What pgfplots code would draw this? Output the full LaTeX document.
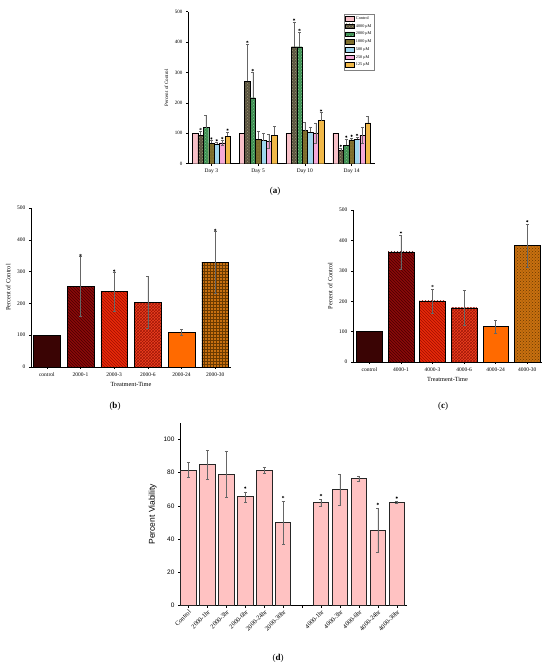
\documentclass[border=0pt]{standalone}
\usepackage{pgfplots}
\pgfplotsset{compat=1.18}
\usetikzlibrary{patterns}
\usepackage{fontspec}
\setmainfont{Liberation Serif}
\newfontfamily\arialf{Liberation Sans}
\definecolor{cctrl}{HTML}{F8C0C8}
\definecolor{cfour}{HTML}{5A5440}
\definecolor{cfourp}{HTML}{A09878}
\definecolor{ctwo}{HTML}{3E8E52}
\definecolor{ctwop}{HTML}{80C090}
\definecolor{cone}{HTML}{7C6C2C}
\definecolor{conep}{HTML}{A89850}
\definecolor{cfive}{HTML}{9ED6EE}
\definecolor{ctwofifty}{HTML}{F5A8D8}
\definecolor{conetwentyfive}{HTML}{F0B848}
\definecolor{bctrl}{HTML}{3A0404}
\definecolor{bone}{HTML}{8B0A0A}
\definecolor{bonep}{HTML}{4A0000}
\definecolor{bthree}{HTML}{E82A0A}
\definecolor{bthreep}{HTML}{A01000}
\definecolor{bsix}{HTML}{F04020}
\definecolor{bsixp}{HTML}{A01808}
\definecolor{btwentyfour}{HTML}{FF6A00}
\definecolor{bthirty}{HTML}{C87010}
\definecolor{bthirtyp}{HTML}{6A3A00}
\definecolor{dpink}{HTML}{FFC2C2}
\pgfplotsset{
  panel/.style={scale only axis, anchor=south west,
    axis x line*=bottom, axis y line*=left,
    tick align=outside, major tick length=2pt,
    /pgf/number format/assume math mode=true,
    axis line style={line width=0.5pt, black},
    tick style={line width=0.5pt, black},
    error bars/error bar style={line width=0.35pt, black!60},
    error bars/error mark options={rotate=90, mark size=1.5pt, line width=0.35pt, black!60},
  },
  star/.style={only marks, mark=asterisk, mark size=1.2pt, black, line width=0.3pt, forget plot},
  abar/.style={ybar, bar width=5.4pt, bar shift=0pt, draw=black, line width=0.3pt},
}
\begin{document}
\begin{tikzpicture}
\path[use as bounding box] (0pt,0pt) rectangle (550pt,667pt);

% ---------------- panel (a)
\begin{axis}[panel, at={(188pt,503.3pt)}, width=187pt, height=152pt,
  xmin=0.5, xmax=4.5, ymin=0, ymax=500,
  xtick={1,2,3,4}, xticklabels={Day 3,Day 5,Day 10,Day 14},
  ytick={0,100,...,500},
  yticklabel style={font=\fontsize{5}{6}\selectfont},
  xticklabel style={font=\fontsize{5.5}{6}\selectfont},
  ylabel={Percent of Control}, ylabel style={font=\fontsize{5}{6}\selectfont},
  legend image code/.code={\draw[#1] (0pt,-2pt) rectangle (9pt,2.6pt);},
  legend style={at={(0.995,0.985)}, anchor=north east, draw=black!50, line width=0.3pt,
    font=\fontsize{4.2}{4.5}\selectfont, inner sep=0.5pt, row sep=-0.6pt},
  legend cell align=left]
\addplot[abar, fill=cctrl]
  coordinates {(0.6535,100) (1.6535,100) (2.6535,100) (3.6535,100)};
\addlegendentry{Control}
\addplot[abar, fill=cfour,
  postaction={pattern=crosshatch dots, pattern color=cfourp},
  error bars/y dir=plus, error bars/y explicit]
  coordinates {(0.769,93) +- (0,14) (1.769,271) +- (0,123) (2.769,385) +- (0,82) (3.769,43) +- (0,9)};
\addlegendentry{4000 μM}
\addplot[abar, fill=ctwo,
  postaction={pattern=crosshatch dots, pattern color=ctwop},
  error bars/y dir=plus, error bars/y explicit]
  coordinates {(0.8845,119) +- (0,40) (1.8845,217) +- (0,84) (2.8845,385) +- (0,48) (3.8845,61) +- (0,21)};
\addlegendentry{2000 μM}
\addplot[abar, fill=cone,
  postaction={pattern=dots, pattern color=conep},
  error bars/y dir=plus, error bars/y explicit]
  coordinates {(1,68) +- (0,8) (2,80) +- (0,27) (3,109) +- (0,28) (4,78) +- (0,7)};
\addlegendentry{1000 μM}
\addplot[abar, fill=cfive,
  error bars/y dir=plus, error bars/y explicit]
  coordinates {(1.1155,64) +- (0,6) (2.1155,76) +- (0,25) (3.1155,103) +- (0,17) (4.1155,80) +- (0,8)};
\addlegendentry{500 μM}
\addplot[abar, fill=ctwofifty,
  error bars/y dir=both, error bars/y explicit]
  coordinates {(1.231,69) +- (0,8) (2.231,74) +- (0,23) (3.231,101) +- (0,33) (4.231,94) +- (0,27)};
\addlegendentry{250 μM}
\addplot[abar, fill=conetwentyfive,
  error bars/y dir=plus, error bars/y explicit]
  coordinates {(1.3465,91) +- (0,14) (2.3465,94) +- (0,29) (3.3465,142) +- (0,26) (4.3465,134) +- (0,22)};
\addlegendentry{125 μM}
\addplot[star] coordinates {(0.769,114) (1.0,83) (1.1155,77) (1.231,84) (1.3465,112)
  (1.769,401) (1.8845,308) (2.769,474) (2.8845,440) (3.3465,175)
  (3.769,59) (3.8845,89) (4.0,92) (4.1155,95)};
\end{axis}
\node[font=\fontsize{9}{10}\selectfont] at (275pt,475.3pt) {(\textbf{a})};

% ---------------- panel (b)
\begin{axis}[panel, at={(31pt,300pt)}, width=200pt, height=159pt,
  xmin=-0.47, xmax=5.47, ymin=0, ymax=500,
  xtick={0,...,5}, xticklabels={control,2000-1,2000-3,2000-6,2000-24,2000-30},
  ytick={0,100,...,500},
  ticklabel style={font=\fontsize{5.5}{6}\selectfont},
  ylabel={Percent of Control}, xlabel={Treatment-Time},
  label style={font=\fontsize{6.3}{7}\selectfont},
  xlabel style={yshift=1pt}]
\addplot[ybar, bar width=26.7pt, bar shift=0pt, fill=bctrl, draw=black, line width=0.4pt]
  coordinates {(0,100)};
\addplot[ybar, bar width=26.7pt, bar shift=0pt, fill=bone, draw=black, line width=0.4pt,
  postaction={pattern=north west lines, pattern color=bonep},
  error bars/y dir=both, error bars/y explicit] coordinates {(1,254) +- (0,94)};
\addplot[ybar, bar width=26.7pt, bar shift=0pt, fill=bthree, draw=black, line width=0.4pt,
  postaction={pattern=north west lines, pattern color=bthreep},
  error bars/y dir=both, error bars/y explicit] coordinates {(2,238) +- (0,61)};
\addplot[ybar, bar width=26.7pt, bar shift=0pt, fill=bsix, draw=black, line width=0.4pt,
  postaction={pattern=crosshatch, pattern color=bsixp},
  error bars/y dir=both, error bars/y explicit] coordinates {(3,203) +- (0,82)};
\addplot[ybar, bar width=26.7pt, bar shift=0pt, fill=btwentyfour, draw=black, line width=0.4pt,
  error bars/y dir=both, error bars/y explicit] coordinates {(4,109) +- (0,10)};
\addplot[ybar, bar width=26.7pt, bar shift=0pt, fill=bthirty, draw=black, line width=0.4pt,
  postaction={pattern=grid, pattern color=bthirtyp},
  error bars/y dir=both, error bars/y explicit] coordinates {(5,330) +- (0,97)};
\addplot[star] coordinates {(1,352) (2,303) (5,431)};
\end{axis}
\node[font=\fontsize{9}{10}\selectfont] at (115pt,261pt) {(\textbf{b})};

% ---------------- panel (c)
\begin{axis}[panel, at={(353pt,305pt)}, width=189pt, height=152pt,
  xmin=-0.52, xmax=5.47, ymin=0, ymax=500,
  xtick={0,...,5}, xticklabels={control,4000-1,4000-3,4000-6,4000-24,4000-30},
  ytick={0,100,...,500},
  ticklabel style={font=\fontsize{5.5}{6}\selectfont},
  ylabel={Percent of Control}, xlabel={Treatment-Time},
  label style={font=\fontsize{6.3}{7}\selectfont},
  xlabel style={yshift=1pt}]
\addplot[ybar, bar width=25.7pt, bar shift=0pt, fill=bctrl, draw=black, line width=0.4pt]
  coordinates {(0,100)};
\addplot[ybar, bar width=25.7pt, bar shift=0pt, fill=bone, draw=black, line width=0.4pt,
  postaction={pattern=north west lines, pattern color=bonep},
  error bars/y dir=both, error bars/y explicit] coordinates {(1,362) +- (0,56)};
\addplot[ybar, bar width=25.7pt, bar shift=0pt, fill=bthree, draw=black, line width=0.4pt,
  postaction={pattern=north west lines, pattern color=bthreep},
  error bars/y dir=both, error bars/y explicit] coordinates {(2,201) +- (0,39)};
\addplot[ybar, bar width=25.7pt, bar shift=0pt, fill=bsix, draw=black, line width=0.4pt,
  postaction={pattern=crosshatch, pattern color=bsixp},
  error bars/y dir=both, error bars/y explicit] coordinates {(3,178) +- (0,57)};
\addplot[ybar, bar width=25.7pt, bar shift=0pt, fill=btwentyfour, draw=black, line width=0.4pt,
  error bars/y dir=both, error bars/y explicit] coordinates {(4,117) +- (0,21)};
\addplot[ybar, bar width=25.7pt, bar shift=0pt, fill=bthirty, draw=black, line width=0.4pt,
  postaction={pattern=crosshatch dots, pattern color=bthirtyp},
  error bars/y dir=both, error bars/y explicit] coordinates {(5,383) +- (0,70)};
\addplot[star] coordinates {(1,426) (2,250) (5,463)};
\end{axis}
\node[font=\fontsize{9}{10}\selectfont] at (443pt,261pt) {(\textbf{c})};

% ---------------- panel (d)
\begin{axis}[panel, at={(180pt,61.3pt)}, width=227pt, height=183pt,
  xmin=-0.44, xmax=11.54, ymin=0, ymax=110,
  xtick={0,...,11},
  xticklabels={Control,2000-1hr,2000-3hr,2000-6hr,2000-24hr,2000-30hr,,4000-1hr,4000-3hr,4000-6hr,4000-24hr,4000-30hr},
  xticklabel style={rotate=45, anchor=north east, font=\fontsize{6.4}{7}\selectfont, inner sep=1pt},
  ytick={0,20,...,100},
  yticklabel style={font=\arialf\fontsize{6.5}{7.5}\selectfont},
  ylabel={Percent Viability}, ylabel style={font=\arialf\fontsize{8.5}{9}\selectfont}]
\addplot[ybar, bar width=15.3pt, bar shift=0pt, fill=dpink, draw=black!85, line width=0.5pt,
  error bars/y dir=both, error bars/y explicit]
  coordinates {(0,81.5) +- (0,4.5) (1,84.8) +- (0,8.5) (2,79) +- (0,14) (3,65.5) +- (0,3)
  (4,81.5) +- (0,2) (5,50) +- (0,12.8)
  (7,62) +- (0,2) (8,70) +- (0,9.3) (9,76.5) +- (0,1.5) (10,45.3) +- (0,13.3) (11,62) +- (0,0.6)};
\addplot[star] coordinates {(3,71) (5,65.3) (7,66.5) (10,61.2) (11,65)};
\end{axis}
\node[font=\fontsize{9}{10}\selectfont] at (278pt,9pt) {(\textbf{d})};
\end{tikzpicture}
\end{document}
